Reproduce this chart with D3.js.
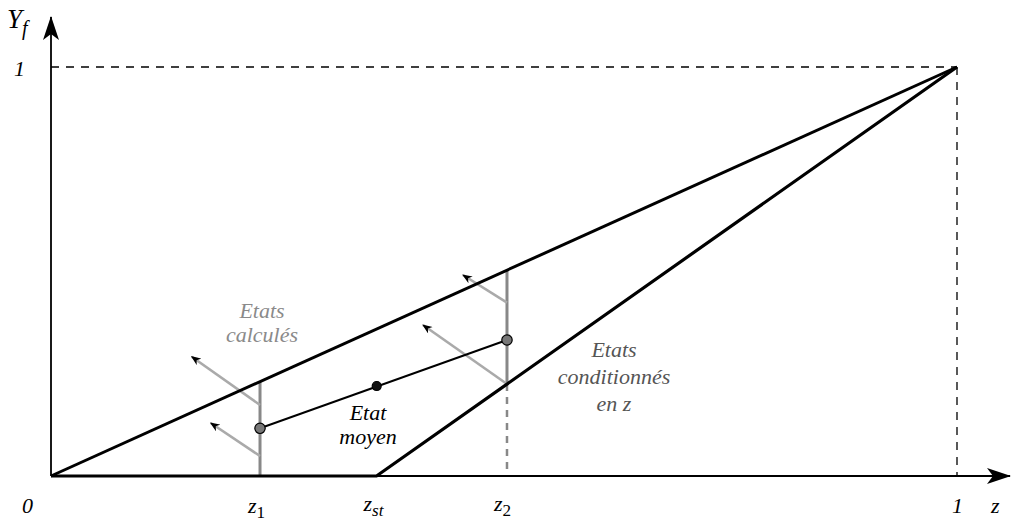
<!DOCTYPE html>
<html><head><meta charset="utf-8">
<script src="https://cdn.jsdelivr.net/npm/d3@7"></script>
<style>body{margin:0;background:#fff}svg{display:block}</style>
</head><body><svg id="c" width="1019" height="521"></svg>
<script>
// ---- data ----
const zKeys = ["zero","z1","zst","z2","one"];
const zValues = [0, 0.2307, 0.3593, 0.5033, 1];
const upperLine = [[0,0],[1,1]];                 // states computed (upper bound)
const lowerLine = [[0,0],[0.3593,0],[1,1]];      // conditioned states
const meanStates = [[0.2307,0.1166],[0.3595,0.22],[0.5033,0.3325]];
const meanDotColors = ["#777","#111","#777"];
const verticals = [[0.2307,0,0.2307],[0.5033,0.2248,0.5033]]; // z, yFrom, yTo
const arrowBases = [[0.2307,0.1736],[0.2307,0.0489],[0.5033,0.4237],[0.5033,0.2248]];
const arrowTips  = [[0.1553,0.2917],[0.1763,0.1296],[0.4547,0.4914],[0.4106,0.3692]];

// pick an installed serif face
const candidates = ["Liberation Serif","Times New Roman","Tinos","DejaVu Serif","Noto Serif","FreeSerif","Nimbus Roman","Nimbus Roman No9 L","Times"];
const cv = document.createElement("canvas").getContext("2d");
function w(f){ cv.font = "italic 40px " + f; return cv.measureText("Etats conditionnés moyen Yf 0123").width; }
let FONT = "serif";
for (const c of candidates){
  const a = w('"'+c+'", monospace'), b = w("monospace");
  const a2 = w('"'+c+'", sans-serif'), b2 = w("sans-serif");
  if (Math.abs(a-b) > 0.5 || Math.abs(a2-b2) > 0.5){ FONT = '"'+c+'", serif'; break; }
}

const svg = d3.select("#c");
const x = d3.scaleLinear().domain([0,1]).range([51,957]);
const y = d3.scaleLinear().domain([0,1]).range([476,67]);
const line = d3.line().x(d=>x(d[0])).y(d=>y(d[1]));

const defs = svg.append("defs");
defs.append("marker").attr("id","ah").attr("viewBox","0 0 10 8").attr("refX",9).attr("refY",4)
  .attr("markerWidth",11).attr("markerHeight",8).attr("markerUnits","userSpaceOnUse").attr("orient","auto")
  .append("path").attr("d","M0,0 L10,4 L0,8 L3,4 Z").attr("fill","#000");
defs.append("marker").attr("id","axh").attr("viewBox","0 0 24 16").attr("refX",23).attr("refY",8)
  .attr("markerWidth",24).attr("markerHeight",16).attr("markerUnits","userSpaceOnUse").attr("orient","auto")
  .append("path").attr("d","M0,0 L24,8 L0,16 L6,8 Z").attr("fill","#000");

// dashed guides
svg.append("line").attr("x1",x(0)).attr("x2",x(1)).attr("y1",y(1)).attr("y2",y(1))
  .attr("stroke","#000").attr("stroke-width",1.3).attr("stroke-dasharray","8,7");
svg.append("line").attr("x1",x(1)).attr("x2",x(1)).attr("y1",y(1)).attr("y2",y(0))
  .attr("stroke","#000").attr("stroke-width",1.3).attr("stroke-dasharray","8,7");
svg.append("line").attr("x1",x(zValues[3])).attr("x2",x(zValues[3])).attr("y1",y(verticals[1][1])).attr("y2",y(0))
  .attr("stroke","#888").attr("stroke-width",2.5).attr("stroke-dasharray","7,6");

// axes
svg.append("line").attr("x1",x(0)).attr("x2",1010).attr("y1",y(0)).attr("y2",y(0))
  .attr("stroke","#000").attr("stroke-width",1.8).attr("marker-end","url(#axh)");
svg.append("line").attr("x1",x(0)).attr("x2",x(0)).attr("y1",y(0)).attr("y2",17)
  .attr("stroke","#000").attr("stroke-width",1.8).attr("marker-end","url(#axh)");

// gray verticals
svg.selectAll(".vert").data(verticals).join("line")
  .attr("x1",d=>x(d[0])).attr("x2",d=>x(d[0])).attr("y1",d=>y(d[1])).attr("y2",d=>y(d[2]))
  .attr("stroke","#888").attr("stroke-width",3);

// gray arrows
svg.selectAll(".arr").data(arrowBases).join("line")
  .attr("x1",d=>x(d[0])).attr("y1",d=>y(d[1]))
  .attr("x2",(d,i)=>x(arrowTips[i][0])).attr("y2",(d,i)=>y(arrowTips[i][1]))
  .attr("stroke","#aaa").attr("stroke-width",2.6).attr("marker-end","url(#ah)");

// main lines
svg.append("path").attr("d",line(upperLine)).attr("fill","none").attr("stroke","#000").attr("stroke-width",3);
svg.append("path").attr("d",line(lowerLine)).attr("fill","none").attr("stroke","#000").attr("stroke-width",3.2);

// mean state line and dots
svg.append("path").attr("d",line([meanStates[0],meanStates[2]])).attr("fill","none").attr("stroke","#000").attr("stroke-width",2);
svg.selectAll(".dot").data(meanStates).join("circle")
  .attr("cx",d=>x(d[0])).attr("cy",d=>y(d[1])).attr("r",(d,i)=>i===1?4.5:5.2)
  .attr("fill",(d,i)=>meanDotColors[i]).attr("stroke","#000").attr("stroke-width",1.2);

// tick labels
const fs = 22;
function lab(xp, yp, main, sub, subItalic, size){
  const s = size||fs;
  const t = svg.append("text").attr("x",xp).attr("y",yp).attr("font-size",s)
    .style("font-family",FONT).style("font-style","italic").attr("text-anchor","start");
  t.append("tspan").text(main);
  if(sub){ t.append("tspan").attr("dy",5).attr("font-size",s*0.78).style("font-style",subItalic?"italic":"normal").text(sub); }
  return t;
}
lab(x(zValues[0])-29, 513, "0");
lab(x(zValues[1])-12, 513, "z", "1", false);
lab(x(zValues[2])-13, 511, "z", "st", true);
lab(x(zValues[3])-13, 511, "z", "2", false);
lab(x(zValues[4])-5, 513, "1");
lab(991, 513, "z");
lab(14, 76, "1");
const yl = svg.append("text").attr("x",7).attr("y",28).attr("font-size",27)
  .style("font-family",FONT).style("font-style","italic");
yl.append("tspan").text("Y");
yl.append("tspan").attr("dy",7).attr("font-size",20).text("f");

// annotations
function block(cx, ys, lines, color){
  lines.forEach((s,i)=>svg.append("text").attr("x",cx).attr("y",ys[i]).attr("text-anchor","middle")
    .style("font-family",FONT).style("font-style","italic")
    .attr("font-size",fs).attr("fill",color).text(s));
}
block(262, [318,342], ["Etats","calculés"], "#8a8a8a");
block(368, [420,444], ["Etat","moyen"], "#000");
block(614, [357,384,411], ["Etats","conditionnés","en z"], "#555");
</script></body></html>
